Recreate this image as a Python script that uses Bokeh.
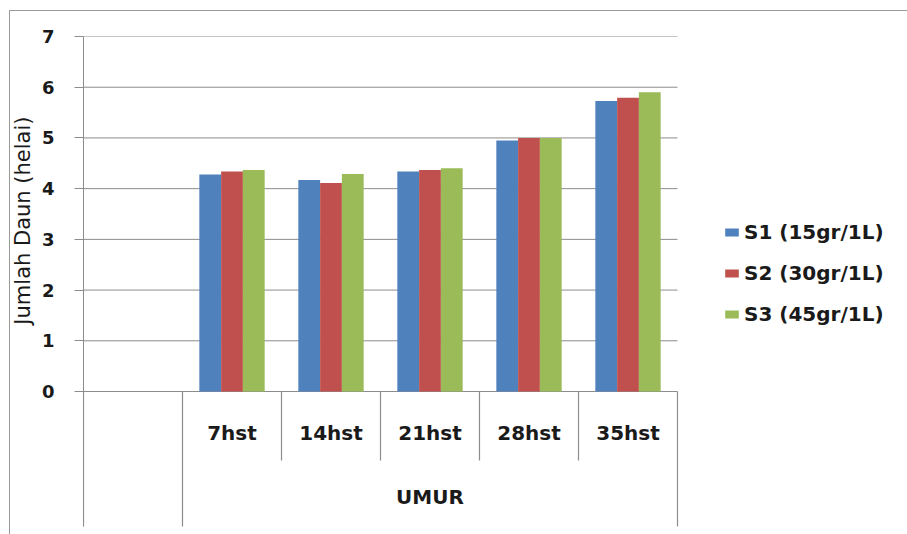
from bokeh.plotting import figure
from bokeh.models import Range1d, LinearAxis, FixedTicker, Legend, LegendItem, Title, InlineStyleSheet
from bokeh.core.properties import value
from bokeh.embed import file_html
from bokeh.resources import INLINE

# Leaf counts per plant age, one series per dose
categories = ["7hst", "14hst", "21hst", "28hst", "35hst"]
series_names = ["S1 (15gr/1L)", "S2 (30gr/1L)", "S3 (45gr/1L)"]
s1 = [4.28, 4.17, 4.34, 4.95, 5.73]
s2 = [4.34, 4.11, 4.37, 5.00, 5.79]
s3 = [4.37, 4.29, 4.40, 5.00, 5.90]
colors = ["#4F81BD", "#C0504D", "#9BBB59"]
y_ticks = [0, 1, 2, 3, 4, 5, 6, 7]
y_title = "Jumlah Daun (helai)"
x_title = "UMUR"

GRID = "#8c8c8c"
FONT = "DejaVu Sans"
INK = "#1a1a1a"

# one empty slot before the five age groups, slot width = 1 data unit
n_slots = len(categories) + 1
Y_LOW = -2.8196

p = figure(width=907, height=534, output_backend="svg", toolbar_location=None,
           x_range=Range1d(0, 824 / 99), y_range=Range1d(Y_LOW, 7),
           x_axis_location=None, y_axis_location=None,
           min_border_left=83, min_border_right=0, min_border_top=36, min_border_bottom=0)
p.outline_line_color = None
p.xgrid.visible = False
p.ygrid.visible = False
p.background_fill_color = "white"
p.border_fill_color = "white"

# thin chart border along the top and left edges
p.stylesheets = [InlineStyleSheet(css="""
:host::after {
  content: "";
  position: absolute;
  left: 9px; top: 10px; right: -4px; bottom: -4px;
  border-left: 1.5px solid #9a9a9a;
  border-top: 1.5px solid #9a9a9a;
  pointer-events: none;
  z-index: 10;
}
""")]

# value axis
yax = LinearAxis(ticker=FixedTicker(ticks=y_ticks), bounds=(-2.66, 7))
yax.axis_line_color = GRID
yax.major_tick_line_color = GRID
yax.major_tick_out = 9
yax.major_tick_in = 0
yax.minor_tick_line_color = None
yax.major_label_standoff = 20
yax.major_label_text_font = FONT
yax.major_label_text_font_style = "bold"
yax.major_label_text_font_size = "18px"
yax.major_label_text_color = INK
p.add_layout(yax, "left")

p.add_layout(Title(text=y_title, align="right", offset=80, text_font=FONT,
                   text_font_size="21px", text_font_style="normal", text_color=INK,
                   standoff=7), "left")

# horizontal gridlines over the plotting slots
p.segment(x0=[0] * len(y_ticks), x1=[n_slots] * len(y_ticks), y0=y_ticks, y1=y_ticks,
          line_color=GRID, line_width=1)

# category table below the axis: long outer dividers, short inner ones
long_x = [0, 1, n_slots]
short_x = list(range(2, n_slots))
p.segment(x0=long_x, x1=long_x, y0=[0] * 3, y1=[-2.66] * 3, line_color=GRID, line_width=1.2)
p.segment(x0=short_x, x1=short_x, y0=[0] * len(short_x), y1=[-1.36] * len(short_x),
          line_color=GRID, line_width=1.2)

# grouped bars
bar_w = 0.22
centers = [i + 1.5 for i in range(len(categories))]
renderers = []
for k, (vals, col) in enumerate(zip([s1, s2, s3], colors)):
    xs = [c + (k - 1) * bar_w for c in centers]
    r = p.vbar(x=xs, top=vals, bottom=0, width=bar_w, fill_color=col, line_color=None)
    renderers.append(r)

# category labels and axis title
p.text(x=centers, y=[-0.81] * len(categories), text=categories,
       text_font=value(FONT), text_font_style="bold", text_font_size="20px",
       text_align="center", text_baseline="middle", text_color=INK)
p.text(x=[(1 + n_slots) / 2], y=[-2.09], text=[x_title],
       text_font=value(FONT), text_font_style="bold", text_font_size="20px",
       text_align="center", text_baseline="middle", text_color=INK)

legend = Legend(items=[LegendItem(label=n, renderers=[r]) for n, r in zip(series_names, renderers)],
                location=(640, 208), glyph_width=17, glyph_height=10, label_standoff=4,
                spacing=17, padding=0, margin=0, border_line_color=None,
                background_fill_alpha=0, label_text_font=FONT, label_text_font_style="bold",
                label_text_font_size="20px", label_text_color=INK)
p.add_layout(legend, "center")

open("out.html", "w").write(file_html(p, INLINE))
